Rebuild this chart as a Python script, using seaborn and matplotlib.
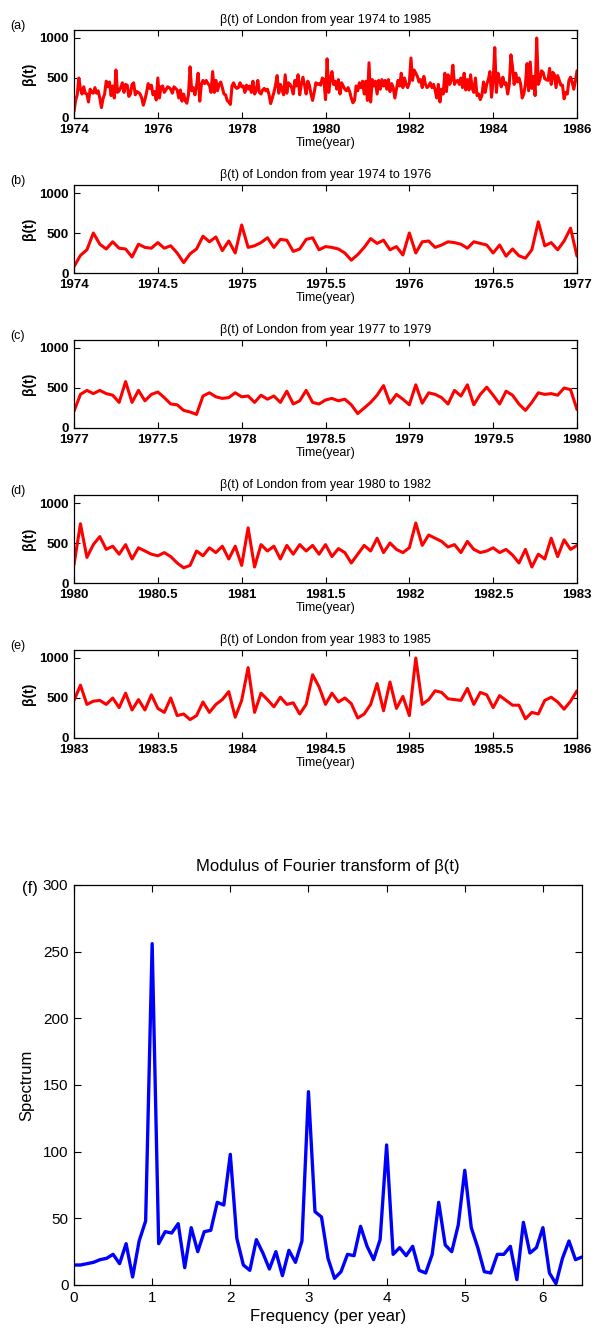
import numpy as np
import pandas as pd
import matplotlib
matplotlib.use("Agg")
import matplotlib.pyplot as plt
import seaborn as sns

# ---------------- data ----------------
samples_per_year = 26          # biweekly values
start_year = 1974

beta_1974_1976 = [80, 220, 290, 500, 360, 300, 390, 310, 300, 200, 360, 320, 310, 380, 310, 340, 250, 130,
                  240, 300, 460, 390, 450, 280, 400, 250,
                  600, 320, 340, 380, 440, 320, 420, 410, 270, 300, 420, 440, 290,
                  330, 320, 300, 250, 160, 230, 320, 430, 370, 410, 290, 330, 225, 500, 250, 390, 400,
                  320, 350, 390, 380, 360, 310, 390, 370, 350, 250, 350, 210, 300, 215, 185, 290, 640,
                  340, 380, 290, 400, 560]
beta_1977_1979 = [210, 420, 470, 430, 470, 430, 410, 320, 580, 320, 470, 340, 420, 450, 380, 300, 290, 220,
                  200, 170, 400, 440, 390, 370, 380, 440, 390, 400, 320, 410, 360, 400, 320, 460, 300,
                  340, 470, 320, 300,
                  350, 370, 340, 360, 290, 180, 250, 320, 410, 530, 310, 420, 360, 290, 540, 310, 440,
                  420, 380, 300, 470, 400, 540, 290, 420, 510, 410, 300, 460, 410, 300, 220, 320, 440,
                  420, 430, 410, 500, 480]
beta_1980_1982 = [230, 740, 320, 480, 580, 420, 460, 360, 480, 300, 440, 400, 360, 340, 380, 330, 250, 190,
                  220, 400, 340, 440, 380, 460, 300, 460,
                  220, 690, 200, 480, 400, 460, 300, 470, 360, 480, 400, 470, 360, 480, 330, 430, 380,
                  250, 360, 470, 400, 560, 380, 500, 420, 380,
                  440, 750, 470, 600, 560, 520, 450, 480, 380, 520, 420, 380, 400, 440, 380, 420, 350,
                  250, 420, 200, 360, 300, 560, 330, 540, 420]
beta_1983_1985 = [470, 660, 420, 460, 470, 420, 500, 380, 560, 350, 480, 350, 540, 370, 320, 500, 280, 300,
                  230, 280, 450, 320, 420, 480, 580, 260,
                  470, 880, 320, 560, 480, 390, 510, 420, 440, 300, 420, 790, 640, 420, 560, 450, 500,
                  430, 250, 300, 420, 680, 340, 700, 370, 520,
                  280, 1000, 420, 480, 590, 570, 490, 480, 470, 620, 420, 570, 540, 380, 530, 470, 410,
                  410, 240, 320, 300, 470, 510, 450, 360, 460, 590]

freq_step = 1 / 12             # frequency resolution (per year)
spectrum = [15, 15, 16, 17, 19, 20, 23, 16, 31, 6, 33, 48,
            256, 31, 40, 39, 46, 13, 43, 25, 40, 41, 62, 60,
            98, 35, 15, 11, 34, 24, 12, 25, 7, 26, 17, 33,
            145, 55, 51, 20, 5, 10, 23, 22, 44, 29, 19, 34,
            105, 23, 28, 22, 29, 11, 9, 23, 62, 30, 25, 45,
            86, 43, 28, 10, 9, 23, 23, 29, 4, 47, 24, 28,
            43, 9, 1, 20, 33, 19, 21]

panel_ranges = [(1974, 1986), (1974, 1977), (1977, 1980), (1980, 1983), (1983, 1986)]
panel_titles = ["β(t) of London from year 1974 to 1985",
                "β(t) of London from year 1974 to 1976",
                "β(t) of London from year 1977 to 1979",
                "β(t) of London from year 1980 to 1982",
                "β(t) of London from year 1983 to 1985"]
panel_letters = ["(a)", "(b)", "(c)", "(d)", "(e)"]
panel_xstep = [2, 0.5, 0.5, 0.5, 0.5]
beta_yticks = [0, 500, 1000]
spec_xticks = [0, 1, 2, 3, 4, 5, 6]
spec_yticks = [0, 50, 100, 150, 200, 250, 300]

# ---------------- style ----------------
sns.set_theme(style="ticks")
plt.rcParams["font.family"] = ["Liberation Sans", "DejaVu Sans"]
plt.rcParams.update({
    "xtick.direction": "in", "ytick.direction": "in",
    "xtick.top": True, "ytick.right": True,
    "xtick.major.size": 4, "ytick.major.size": 4,
    "xtick.major.width": 0.8, "ytick.major.width": 0.8,
    "axes.linewidth": 0.9, "axes.edgecolor": "black",
    "xtick.color": "black", "ytick.color": "black",
    "text.color": "black", "axes.labelcolor": "black",
})

beta = np.concatenate([beta_1974_1976, beta_1977_1979, beta_1980_1982, beta_1983_1985]).astype(float)
time = start_year + np.arange(len(beta)) / samples_per_year
df = pd.DataFrame({"time": time, "beta": beta})

W, H = 595, 1331
fig = plt.figure(figsize=(W / 100, H / 100), dpi=100)


def rect(x0, y0, x1, y1):
    return [x0 / W, 1 - y1 / H, (x1 - x0) / W, (y1 - y0) / H]


tops = [30, 185, 340, 495, 650]
for i, (y0, y1) in enumerate(panel_ranges):
    top = tops[i]
    ax = fig.add_axes(rect(74, top, 577, top + 88))
    sub = df[(df["time"] >= y0 - 1e-9) & (df["time"] <= y1 + 1e-9)]
    sns.lineplot(data=sub, x="time", y="beta", ax=ax, color="#ff0000", lw=2.2,
                 estimator=None, sort=False)
    ax.set_xlim(y0, y1)
    ax.set_ylim(0, 1100)
    xt = np.arange(y0, y1 + 1e-9, panel_xstep[i])
    ax.set_xticks(xt)
    ax.set_xticklabels([f"{v:g}" for v in xt], fontsize=9.5, fontweight="bold")
    ax.set_yticks(beta_yticks)
    ax.set_yticklabels([str(v) for v in beta_yticks], fontsize=9.5, fontweight="bold")
    ax.tick_params(axis="x", pad=4)
    ax.tick_params(axis="y", pad=4)
    ax.set_title(panel_titles[i], fontsize=9, pad=5)
    ax.set_xlabel("Time(year)", fontsize=9, labelpad=1)
    ax.set_ylabel("β(t)", fontsize=10, fontweight="bold", labelpad=2)
    fig.text(10 / W, 1 - (top + 2) / H, panel_letters[i], fontsize=9, va="bottom", ha="left")

# spectrum panel
axf = fig.add_axes(rect(74, 885, 582, 1285))
spec_df = pd.DataFrame({"freq": np.arange(len(spectrum)) * freq_step, "spec": spectrum})
sns.lineplot(data=spec_df, x="freq", y="spec", ax=axf, color="#0000ff", lw=2.4,
             estimator=None, sort=False)
axf.set_xlim(0, 6.5)
axf.set_ylim(0, 300)
axf.set_xticks(spec_xticks)
axf.set_xticklabels([str(v) for v in spec_xticks], fontsize=11)
axf.set_yticks(spec_yticks)
axf.set_yticklabels([str(v) for v in spec_yticks], fontsize=11)
axf.tick_params(axis="both", length=5, pad=4)
axf.set_title("Modulus of Fourier transform of β(t)", fontsize=12, pad=10)
axf.set_xlabel("Frequency (per year)", fontsize=12, labelpad=3)
axf.set_ylabel("Spectrum", fontsize=12, labelpad=6)
fig.text(22 / W, 1 - 888 / H, "(f)", fontsize=12, va="center", ha="left")

fig.savefig("out.png", dpi=100)
